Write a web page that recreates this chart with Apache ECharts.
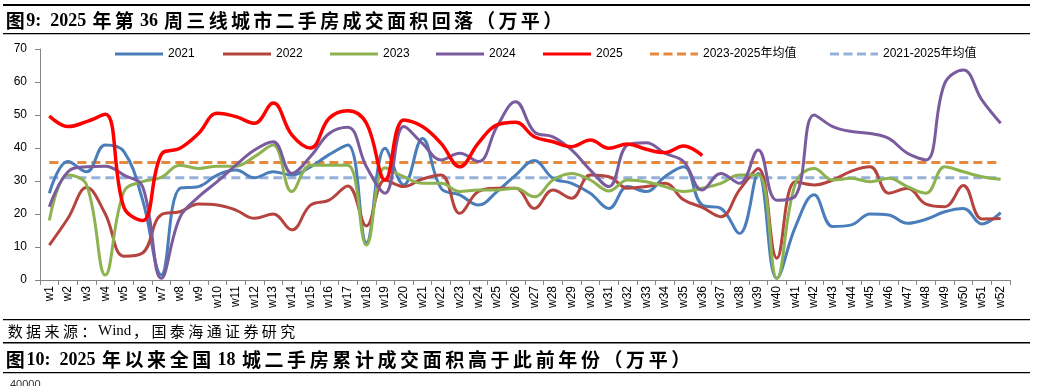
<!DOCTYPE html>
<html>
<head>
<meta charset="utf-8">
<script src="https://cdn.jsdelivr.net/npm/echarts@6/dist/echarts.min.js"></script>
<style>
html,body{margin:0;padding:0;background:#fff;}
#c{width:1038px;height:386px;}
</style>
</head>
<body>
<div id="c"></div>
<script>
// ---- data ----
var weeks = ['w1','w2','w3','w4','w5','w6','w7','w8','w9','w10','w11','w12','w13','w14','w15','w16','w17','w18','w19','w20','w21','w22','w23','w24','w25','w26','w27','w28','w29','w30','w31','w32','w33','w34','w35','w36','w37','w38','w39','w40','w41','w42','w43','w44','w45','w46','w47','w48','w49','w50','w51','w52'];
var s2021 = [26.3,35.9,32.8,40.9,38.9,24.2,1.5,27.8,28.3,31.8,33.3,31.0,32.8,31.8,34.3,38.0,40.9,11.3,39.9,28.8,42.9,27.8,25.8,22.7,26.8,31.8,36.2,30.8,29.3,26.3,21.7,28.3,26.8,31.3,34.3,22.7,21.7,14.1,32.3,0.5,16.2,25.8,16.2,16.7,20.0,19.7,17.2,18.4,20.7,21.7,17.0,20.4];
var s2022 = [10.6,18.7,28.0,20.0,7.2,8.2,19.8,20.7,23.0,22.7,21.2,18.7,20.0,15.2,22.7,24.2,28.5,16.4,30.3,28.3,30.6,31.8,20.2,26.8,27.8,27.8,21.7,27.3,24.8,31.8,31.3,27.8,28.3,29.3,24.3,22.0,19.2,27.3,33.8,6.6,29.8,28.8,30.3,33.0,34.3,26.3,27.8,23.0,22.2,28.6,18.5,18.6];
var s2023 = [18.0,31.8,28.8,1.5,26.8,29.8,31.1,34.8,33.8,34.5,34.5,37.4,40.9,26.8,34.8,34.8,34.8,10.6,34.0,31.3,29.3,29.3,26.8,27.3,27.3,27.8,25.2,30.3,32.3,30.3,27.0,30.3,29.8,28.3,26.8,27.8,29.3,31.8,31.8,0.5,29.3,33.8,30.3,30.8,29.8,30.8,28.3,26.3,34.3,32.8,31.3,30.5];
var s2024 = [22.2,32.8,34.3,34.5,31.8,28.3,0.5,19.0,25.2,29.8,34.8,39.4,41.9,32.3,37.4,44.4,46.3,34.3,26.3,46.5,41.4,36.4,38.4,35.9,46.5,54.0,44.9,43.4,39.4,33.3,28.3,40.9,41.6,38.4,35.9,27.3,32.3,29.3,39.4,24.2,25.5,50.0,46.5,45.0,44.4,42.9,38.4,36.4,59.6,63.6,54.5,47.5];
var s2025 = [49.7,46.5,48.0,50.2,22.0,18.0,38.0,39.9,44.4,50.5,49.5,47.5,53.6,44.0,40.0,49.0,51.3,47.5,30.3,48.5,46.5,41.4,34.3,41.5,47.0,47.8,43.4,41.9,40.4,42.4,39.9,41.2,39.6,38.6,40.6,37.7];
var avgNames = ['2023-2025年均值','2021-2025年均值'];
var avgValues = [35.6, 31.0];
var yTicks = [0,10,20,30,40,50,60,70];

var FONT = '"Liberation Sans", Arial, "Noto Sans CJK SC", sans-serif';
var SERIF = '"Liberation Serif", "Times New Roman", serif';
var CJK = '"Noto Sans CJK SC", sans-serif';

var chart = echarts.init(document.getElementById('c'), null, {renderer:'canvas'});

function lineSeries(name, data, color, width, z) {
  return {
    name: name, type: 'line', data: data, smooth: 0.4, symbol: 'none',
    lineStyle: {color: color, width: width}, itemStyle: {color: color},
    z: z, animation: false
  };
}
function avgSeries(i, color) {
  return {
    name: avgNames[i], type: 'line',
    data: [[weeks[0], avgValues[i]], [weeks[weeks.length-1], avgValues[i]]],
    symbol: 'none',
    lineStyle: {color: color, width: 3, type: [9,5]},
    itemStyle: {color: color}, z: 1, animation: false
  };
}

var SOLID_ICON = 'path://M0,0H48V3H0Z';
var DASH_ICON = 'path://M0,0H9V3H0Z M13.5,0H22.5V3H13.5Z M27,0H36V3H27Z M40.5,0H48V3H40.5Z';
var legendDefs = [
  ['2021', 110, SOLID_ICON], ['2022', 218, SOLID_ICON], ['2023', 325, SOLID_ICON],
  ['2024', 431, SOLID_ICON], ['2025', 538, SOLID_ICON],
  [avgNames[0], 645, DASH_ICON], [avgNames[1], 825, DASH_ICON]
];
var legends = legendDefs.map(function(d){
  return {
    data: [{name: d[0], icon: d[2]}], left: d[1], top: 43, itemWidth: 48, itemHeight: 3.5, itemGap: 5,
    textStyle: {fontFamily: FONT, fontSize: 12, color: '#000'}, selectedMode: false
  };
});

// rich title text builder: CJK chars get wider advance, latin uses bold serif
function richTitle(str, cjkSize, cjkPad, latSize, weight) {
  var out = '';
  for (var i = 0; i < str.length; i++) {
    var ch = str[i];
    if (/[\u3000-\u9fff\uff00-\uffef]/.test(ch)) out += '{c|' + ch + '}';
    else if (ch === ' ') out += '{s| }';
    else out += '{n|' + ch + '}';
  }
  return {
    text: out,
    rich: {
      c: {font: weight + ' ' + cjkSize + 'px ' + CJK, padding: [0, cjkPad, 0, cjkPad], fill: '#000'},
      n: {font: weight + ' ' + latSize + 'px ' + SERIF, fill: '#000'},
      s: {font: weight + ' ' + latSize + 'px ' + SERIF, fill: '#000'}
    }
  };
}
var t9 = richTitle('图9:  2025 年第 36 周三线城市二手房成交面积回落（万平）', 19, 1.65, 18, 'bold');
var t10 = richTitle('图10:  2025 年以来全国 18 城二手房累计成交面积高于此前年份（万平）', 19, 1.8, 18, 'bold');
var src = richTitle('数据来源：Wind，国泰海通证券研究', 15, 1.7, 15, 'normal');

var option = {
  backgroundColor: '#fff',
  animation: false,
  legend: legends,
  grid: {left: 40, right: 28, top: 49, bottom: 106, containLabel: false},
  xAxis: {
    type: 'category', data: weeks, boundaryGap: true,
    axisLine: {lineStyle: {color: '#868686', width: 1}},
    axisTick: {show: true, interval: 0, length: 5, lineStyle: {color: '#868686'}},
    axisLabel: {interval: 0, rotate: 90, fontFamily: FONT, fontSize: 12, color: '#000', margin: 6},
    splitLine: {show: false}
  },
  yAxis: {
    type: 'value', min: yTicks[0], max: yTicks[yTicks.length-1], interval: 10,
    axisLine: {show: true, lineStyle: {color: '#868686', width: 1}},
    axisTick: {show: true, length: 5, lineStyle: {color: '#868686'}},
    axisLabel: {fontFamily: FONT, fontSize: 12, color: '#000', margin: 13},
    splitLine: {show: false}
  },
  series: [
    avgSeries(0, '#E8883C'),
    avgSeries(1, '#95B1D9'),
    lineSeries('2021', s2021, '#4A7EBB', 3, 3),
    lineSeries('2022', s2022, '#B5443F', 3, 3),
    lineSeries('2023', s2023, '#8DB250', 3, 3),
    lineSeries('2024', s2024, '#7A5C9E', 3, 3),
    lineSeries('2025', s2025, '#FF0000', 3.5, 4)
  ],
  graphic: [
    {type: 'rect', shape: {x: 3, y: 4, width: 1027, height: 2}, style: {fill: '#000'}, silent: true},
    {type: 'text', x: 4, y: 21, style: {text: t9.text, rich: t9.rich, verticalAlign: 'middle'}},
    {type: 'rect', shape: {x: 3, y: 33, width: 1027, height: 1.3}, style: {fill: '#000'}, silent: true},
    {type: 'rect', shape: {x: 3, y: 319, width: 1027, height: 1.3}, style: {fill: '#000'}, silent: true},
    {type: 'text', x: 6, y: 331, style: {text: src.text, rich: src.rich, verticalAlign: 'middle'}},
    {type: 'rect', shape: {x: 3, y: 342, width: 1027, height: 1.6}, style: {fill: '#000'}, silent: true},
    {type: 'text', x: 4, y: 360, style: {text: t10.text, rich: t10.rich, verticalAlign: 'middle'}},
    {type: 'rect', shape: {x: 3, y: 372, width: 1027, height: 1.3}, style: {fill: '#000'}, silent: true},
    {type: 'text', left: 10, top: 379, style: {text: '40000', font: '11px ' + FONT, fill: '#333'}}
  ]
};
chart.setOption(option);
</script>
</body>
</html>
